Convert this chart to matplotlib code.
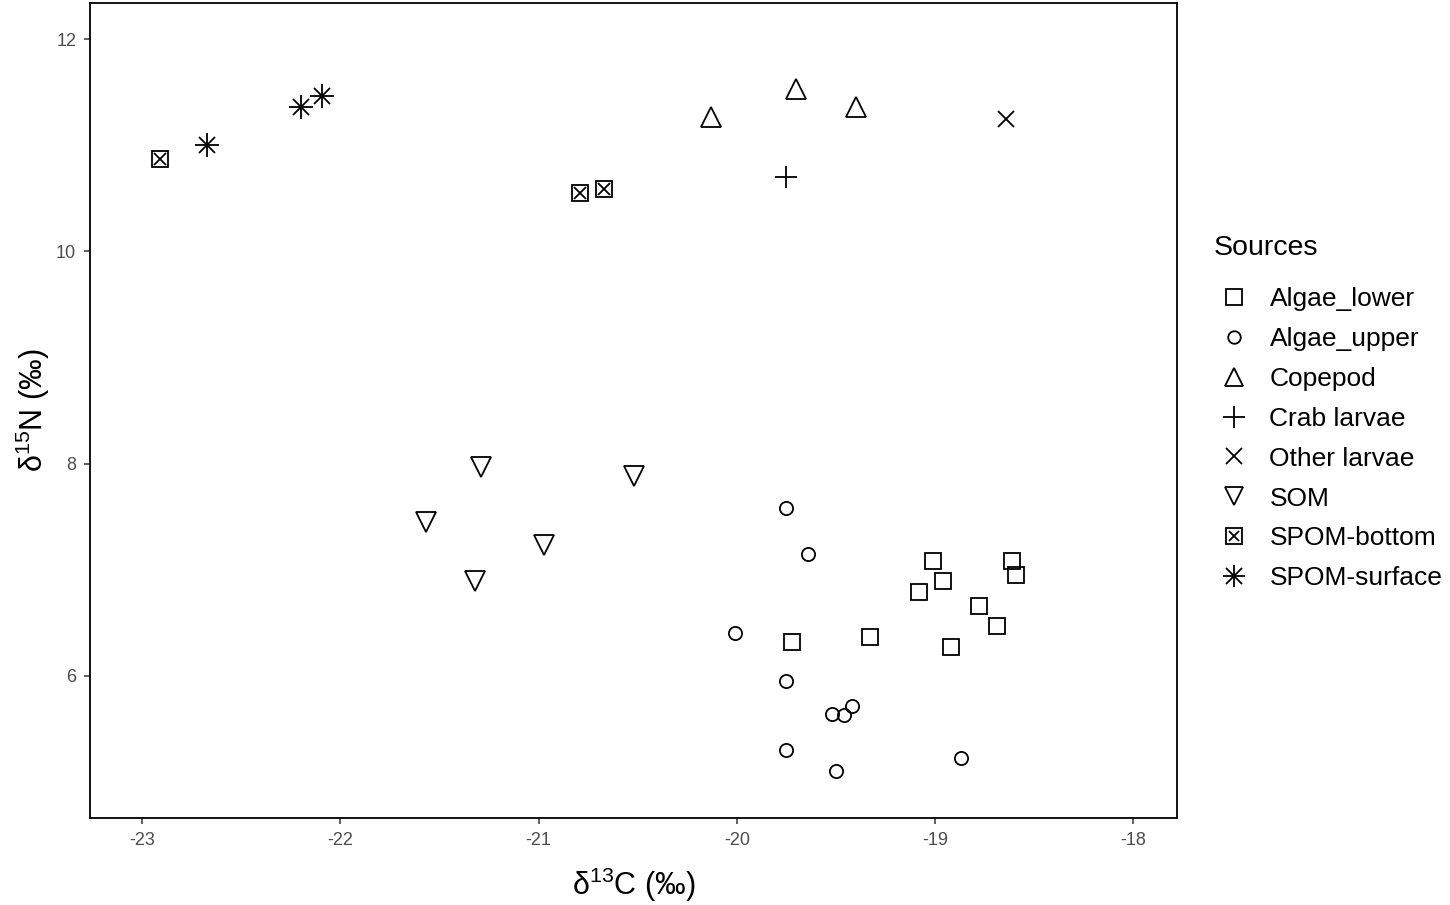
import matplotlib.pyplot as plt
from matplotlib.legend_handler import HandlerTuple

plt.rcParams['font.family'] = ['Liberation Sans', 'DejaVu Sans']

# data (d13C, d15N)
algae_lower_x = [-19.72, -19.33, -19.08, -19.01, -18.96, -18.92, -18.78, -18.69, -18.61, -18.59]
algae_lower_y = [6.32, 6.37, 6.79, 7.08, 6.89, 6.27, 6.66, 6.47, 7.08, 6.95]
algae_upper_x = [-19.75, -19.64, -20.01, -19.75, -19.52, -19.46, -19.42, -19.75, -19.50, -18.87]
algae_upper_y = [7.58, 7.15, 6.40, 5.95, 5.64, 5.63, 5.72, 5.30, 5.10, 5.23]
copepod_x = [-20.13, -19.70, -19.40]
copepod_y = [11.27, 11.53, 11.36]
crab_x = [-19.75]
crab_y = [10.70]
other_x = [-18.64]
other_y = [11.25]
som_x = [-21.57, -21.29, -21.32, -20.97, -20.52]
som_y = [7.45, 7.97, 6.89, 7.23, 7.88]
spom_bottom_x = [-22.91, -20.79, -20.67]
spom_bottom_y = [10.87, 10.55, 10.59]
spom_surface_x = [-22.67, -22.20, -22.09]
spom_surface_y = [11.00, 11.36, 11.46]

fig = plt.figure(figsize=(14.5, 9.05), dpi=100)
ax = fig.add_axes([0.0621, 0.0961, 0.7496, 0.9006])

kw = dict(linestyle='none', color='black', markerfacecolor='none', markeredgewidth=1.3)
h1, = ax.plot(algae_lower_x, algae_lower_y, marker='s', markersize=12, **kw)
h2, = ax.plot(algae_upper_x, algae_upper_y, marker='o', markersize=9.5, **kw)
h3, = ax.plot(copepod_x, copepod_y, marker='^', markersize=14, **kw)
h4, = ax.plot(crab_x, crab_y, marker='+', markersize=16, **kw)
h5, = ax.plot(other_x, other_y, marker='x', markersize=12, **kw)
h6, = ax.plot(som_x, som_y, marker='v', markersize=14, **kw)
h7a, = ax.plot(spom_bottom_x, spom_bottom_y, marker='s', markersize=12, **kw)
h7b, = ax.plot(spom_bottom_x, spom_bottom_y, marker='x', markersize=8, **kw)
h8a, = ax.plot(spom_surface_x, spom_surface_y, marker='+', markersize=17, **kw)
h8b, = ax.plot(spom_surface_x, spom_surface_y, marker='x', markersize=12, **kw)

ax.set_xlim(-23.262, -17.78)
ax.set_ylim(4.66, 12.34)
ax.set_xticks([-23, -22, -21, -20, -19, -18])
ax.set_xticklabels(['-23', '-22', '-21', '-20', '-19', '-18'])
ax.set_yticks([6, 8, 10, 12])
ax.tick_params(labelsize=13, labelcolor='#4D4D4D', length=4, width=1.1, color='#333333', pad=6)
for s in ax.spines.values():
    s.set_linewidth(1.3)

ax.set_xlabel(r'$\mathregular{\delta^{13}C}$ (‰)', fontsize=22, labelpad=12)
ax.set_ylabel(r'$\mathregular{\delta^{15}N}$ (‰)', fontsize=22, labelpad=3)

labels = ['Algae_lower', 'Algae_upper', 'Copepod', 'Crab larvae', 'Other larvae',
          'SOM', 'SPOM-bottom', 'SPOM-surface']
handles = [h1, h2, h3, h4, h5, h6, (h7a, h7b), (h8a, h8b)]
leg = fig.legend(handles, labels, title='Sources', loc='upper left',
                 bbox_to_anchor=(0.830, 0.752), frameon=False, fontsize=19,
                 title_fontsize=20.5, handler_map={tuple: HandlerTuple(ndivide=1, pad=0)},
                 handlelength=1.5, handletextpad=0.6, labelspacing=0.6, markerscale=0.95,
                 borderaxespad=0)
leg._legend_box.align = 'left'
leg._legend_box.sep = 19

fig.savefig('out.png', dpi=100)
